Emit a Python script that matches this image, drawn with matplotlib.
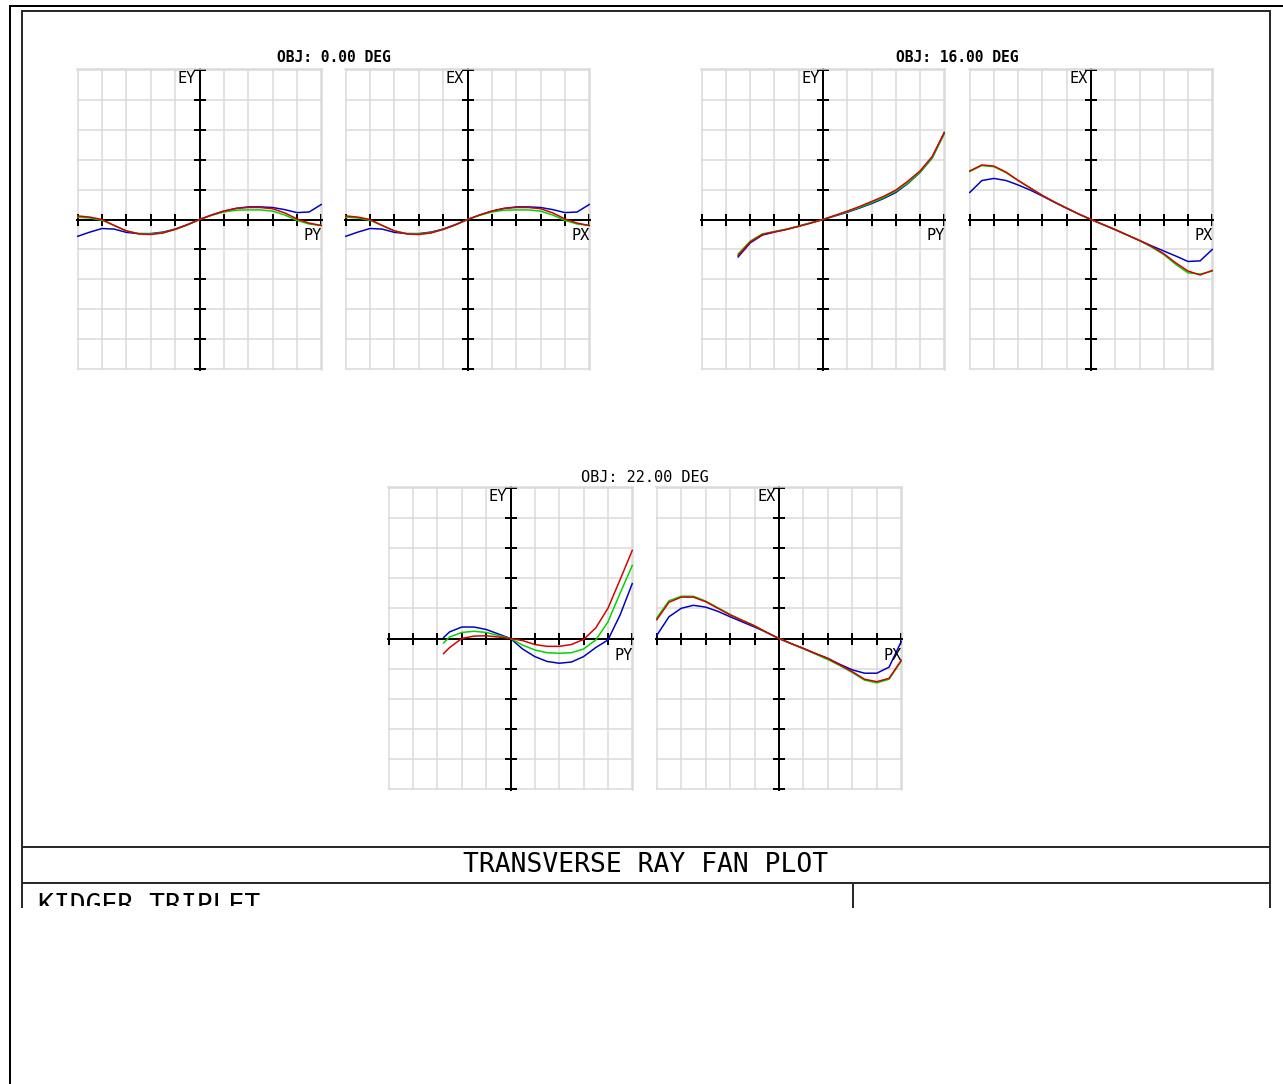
import matplotlib
matplotlib.use("Agg")
import matplotlib.pyplot as plt
from matplotlib.transforms import Bbox, TransformedBbox

W, H = 1283, 1084
PX = 0.72  # points per pixel at 100 dpi

# pupil coordinates (normalised), aberrations in grid divisions
pupil = [-1.0, -0.9, -0.8, -0.7, -0.6, -0.5, -0.4, -0.3, -0.2, -0.1, 0.0,
         0.1, 0.2, 0.3, 0.4, 0.5, 0.6, 0.7, 0.8, 0.9, 1.0]
pupil_16_py = [-0.7, -0.6, -0.5, -0.4, -0.3, -0.2, -0.1, 0.0,
               0.1, 0.2, 0.3, 0.4, 0.5, 0.6, 0.7, 0.8, 0.9, 1.0]
pupil_22_py = [-0.55, -0.5, -0.4, -0.3, -0.2, -0.1, 0.0,
               0.1, 0.2, 0.3, 0.4, 0.5, 0.6, 0.7, 0.8, 0.9, 1.0]

# OBJ 0.00 deg
ey_0_red = [0.12, 0.08, 0.0, -0.2, -0.38, -0.48, -0.5, -0.45, -0.33, -0.18, 0.0,
            0.15, 0.28, 0.37, 0.4, 0.4, 0.36, 0.22, 0.02, -0.12, -0.2]
ey_0_green = [0.08, 0.05, -0.03, -0.2, -0.38, -0.47, -0.48, -0.44, -0.33, -0.18, 0.0,
              0.14, 0.25, 0.31, 0.32, 0.32, 0.28, 0.15, -0.03, -0.15, -0.2]
ey_0_blue = [-0.56, -0.42, -0.3, -0.32, -0.43, -0.47, -0.47, -0.42, -0.32, -0.17, 0.0,
             0.15, 0.28, 0.37, 0.42, 0.42, 0.4, 0.33, 0.23, 0.25, 0.5]
ex_0_red = ey_0_red
ex_0_green = ey_0_green
ex_0_blue = ey_0_blue

# OBJ 16.00 deg
ey_16_red = [-1.2, -0.75, -0.5, -0.41, -0.33, -0.23, -0.12, 0.0,
             0.14, 0.28, 0.43, 0.6, 0.77, 0.98, 1.28, 1.62, 2.1, 2.9]
ey_16_green = [-1.15, -0.72, -0.48, -0.4, -0.32, -0.22, -0.11, 0.0,
               0.13, 0.26, 0.4, 0.56, 0.73, 0.94, 1.22, 1.58, 2.05, 2.85]
ey_16_blue = [-1.25, -0.78, -0.52, -0.42, -0.33, -0.22, -0.11, 0.0,
              0.12, 0.24, 0.38, 0.53, 0.7, 0.9, 1.2, 1.57, 2.05, 2.9]
ex_16_red = [1.62, 1.82, 1.78, 1.58, 1.3, 1.05, 0.8, 0.58, 0.38, 0.18, 0.0,
             -0.17, -0.34, -0.52, -0.7, -0.9, -1.14, -1.45, -1.72, -1.85, -1.7]
ex_16_green = [1.6, 1.8, 1.76, 1.56, 1.3, 1.05, 0.8, 0.58, 0.38, 0.18, 0.0,
               -0.17, -0.34, -0.52, -0.7, -0.92, -1.17, -1.5, -1.78, -1.82, -1.72]
ex_16_blue = [0.9, 1.3, 1.37, 1.3, 1.15, 0.98, 0.78, 0.57, 0.37, 0.18, 0.0,
              -0.17, -0.34, -0.52, -0.7, -0.88, -1.05, -1.22, -1.4, -1.38, -1.0]

# OBJ 22.00 deg
ey_22_red = [-0.5, -0.3, 0.0, 0.08, 0.09, 0.05, 0.0,
             -0.07, -0.2, -0.26, -0.26, -0.2, -0.03, 0.35, 1.0, 1.95, 2.92]
ey_22_green = [-0.15, 0.05, 0.2, 0.24, 0.2, 0.1, 0.0,
               -0.22, -0.38, -0.47, -0.49, -0.47, -0.35, -0.05, 0.55, 1.5, 2.42]
ey_22_blue = [0.03, 0.22, 0.38, 0.38, 0.3, 0.15, 0.0,
              -0.35, -0.6, -0.76, -0.82, -0.78, -0.6, -0.3, -0.05, 0.78, 1.82]
ex_22_red = [0.62, 1.2, 1.37, 1.37, 1.22, 1.0, 0.78, 0.6, 0.42, 0.2, 0.0,
             -0.17, -0.33, -0.5, -0.66, -0.88, -1.1, -1.35, -1.43, -1.32, -0.72]
ex_22_green = [0.68, 1.25, 1.4, 1.4, 1.24, 1.02, 0.8, 0.6, 0.42, 0.2, 0.0,
               -0.17, -0.34, -0.52, -0.7, -0.9, -1.13, -1.38, -1.47, -1.35, -0.75]
ex_22_blue = [0.1, 0.72, 1.0, 1.1, 1.04, 0.9, 0.72, 0.55, 0.38, 0.2, 0.0,
              -0.17, -0.33, -0.5, -0.66, -0.86, -1.04, -1.15, -1.15, -0.95, -0.1]

titles = ["OBJ: 0.00 DEG", "OBJ: 16.00 DEG", "OBJ: 22.00 DEG"]

RED, GREEN, BLUE = "#d40000", "#00d200", "#0000c0"
GRID = "#d9d9d9"
FONT = "DejaVu Sans Mono"

fig = plt.figure(figsize=(W / 100, H / 100), dpi=100)

# page frame and title block, in pixel coordinates
page = fig.add_axes([0, 0, 1, 1])
page.set_xlim(0, W)
page.set_ylim(H, 0)
page.axis("off")
page.plot([10, 10], [6, H], color="black", lw=2 * PX)
page.plot([10, W], [6, 6], color="black", lw=2 * PX)
frame = dict(color="#2a2a2a", lw=2 * PX)
page.plot([22, 22], [11, 907], **frame)
page.plot([1270, 1270], [11, 907], **frame)
page.plot([22, 1270], [11, 11], **frame)
page.plot([22, 1270], [847, 847], **frame)
page.plot([22, 1270], [883, 883], **frame)
page.plot([853, 853], [883, 907], **frame)

page.text(646, 865, "TRANSVERSE RAY FAN PLOT", fontsize=19, family=FONT,
          ha="center", va="center")
# the lens title is cut off by the bottom of the page in the original
t = page.text(38, 893, "KIDGER TRIPLET", fontsize=19, family=FONT,
              ha="left", va="top")
t.set_clip_box(TransformedBbox(Bbox([[22, 884], [853, 906]]), page.transData))
t.set_clip_on(True)

page.text(333.5, 57, titles[0], fontsize=10.5, family=FONT, weight="bold",
          ha="center", va="center")
page.text(957, 57, titles[1], fontsize=10.5, family=FONT, weight="bold",
          ha="center", va="center")
page.text(645, 478, titles[2], fontsize=11, family=FONT, ha="center", va="center")


def fan_panel(x0, y0, x1, y1, xs, red, green, blue, ylab, xlab):
    ax = fig.add_axes([x0 / W, 1 - y1 / H, (x1 - x0) / W, (y1 - y0) / H])
    ax.set_xlim(-1.006, 1.006)
    ax.set_ylim(-5.02, 5.02)
    ax.set_xticks([i / 5 for i in range(-5, 6)])
    ax.set_yticks(list(range(-5, 6)))
    ax.set_axisbelow(True)
    ax.grid(True, color=GRID, lw=1.5 * PX)
    for side in ["top", "right"]:
        ax.spines[side].set_color(GRID)
        ax.spines[side].set_linewidth(1.5 * PX)
    for side in ["left", "bottom"]:
        ax.spines[side].set_position("zero")
        ax.spines[side].set_color("black")
        ax.spines[side].set_linewidth(2 * PX)
    ax.tick_params(direction="inout", length=12 * PX, width=2 * PX,
                   labelbottom=False, labelleft=False, top=False, right=False)
    ax.plot(xs, blue, color=BLUE, lw=1.5 * PX, zorder=3)
    ax.plot(xs, green, color=GREEN, lw=1.5 * PX, zorder=3)
    ax.plot(xs, red, color=RED, lw=1.5 * PX, zorder=3)
    ax.text(-0.03, 4.95, ylab, fontsize=11, family=FONT, ha="right", va="top")
    ax.text(1.0, -0.3, xlab, fontsize=11, family=FONT, ha="right", va="top")
    return ax


fan_panel(77, 69, 322, 370, pupil, ey_0_red, ey_0_green, ey_0_blue, "EY", "PY")
fan_panel(345, 69, 590, 370, pupil, ex_0_red, ex_0_green, ex_0_blue, "EX", "PX")
fan_panel(701, 69, 945, 370, pupil_16_py, ey_16_red, ey_16_green, ey_16_blue, "EY", "PY")
fan_panel(969, 69, 1213, 370, pupil, ex_16_red, ex_16_green, ex_16_blue, "EX", "PX")
fan_panel(388, 487, 633, 790, pupil_22_py, ey_22_red, ey_22_green, ey_22_blue, "EY", "PY")
fan_panel(656, 487, 902, 790, pupil, ex_22_red, ex_22_green, ex_22_blue, "EX", "PX")

plt.savefig("out.png", dpi=100)
